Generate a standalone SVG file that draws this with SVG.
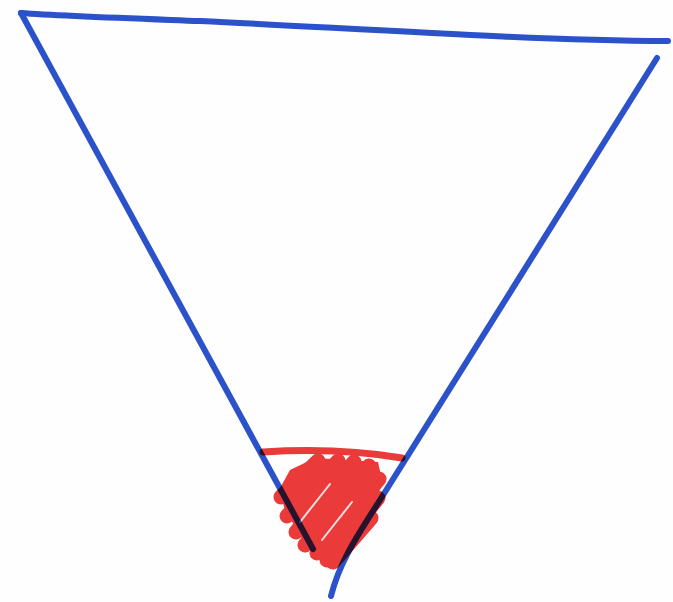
<svg xmlns="http://www.w3.org/2000/svg" width="673" height="602" viewBox="0 0 673 602">
<style>
.blue{fill:none;stroke:#2b52c9;stroke-width:6;stroke-linecap:round;stroke-linejoin:round}
.red{fill:none;stroke:#ec3a3a;stroke-width:15;stroke-linecap:round;stroke-linejoin:round}
</style>
<rect width="673" height="602" fill="#fefefe"/>
<g id="triangle">
<path class="blue" d="M21,13 C60,16 120,18 200,21 C350,28 520,40 668,41"/>
<path class="blue" d="M21,13 L313,549"/>
<path class="blue" d="M657,58 L380,500 C360,532 340,560 331,596"/>
</g>
<g id="red-fill" style="mix-blend-mode:multiply">
<path d="M263,452 C310,449 360,451 402,458" fill="none" stroke="#ec3a3a" stroke-width="7" stroke-linecap="round"/>
<path d="M290,470 L315,458 L378,462 L382,480 L372,520 L345,556 L328,563 L308,548 L285,510 L279,490 Z" fill="#ec3a3a"/>
<path class="red" d="M281,497 L318,461"/>
<path class="red" d="M287,516 L338,461"/>
<path class="red" d="M296,532 L354,462"/>
<path class="red" d="M305,545 L369,466"/>
<path class="red" d="M317,553 L379,479"/>
<path class="red" d="M327,560 L378,498"/>
<path class="red" d="M333,562 L371,518"/>
<path d="M300,522 L330,484 M322,540 L352,502" fill="none" stroke="#fbe0e0" stroke-width="2" stroke-linecap="round"/>
</g>
</svg>
